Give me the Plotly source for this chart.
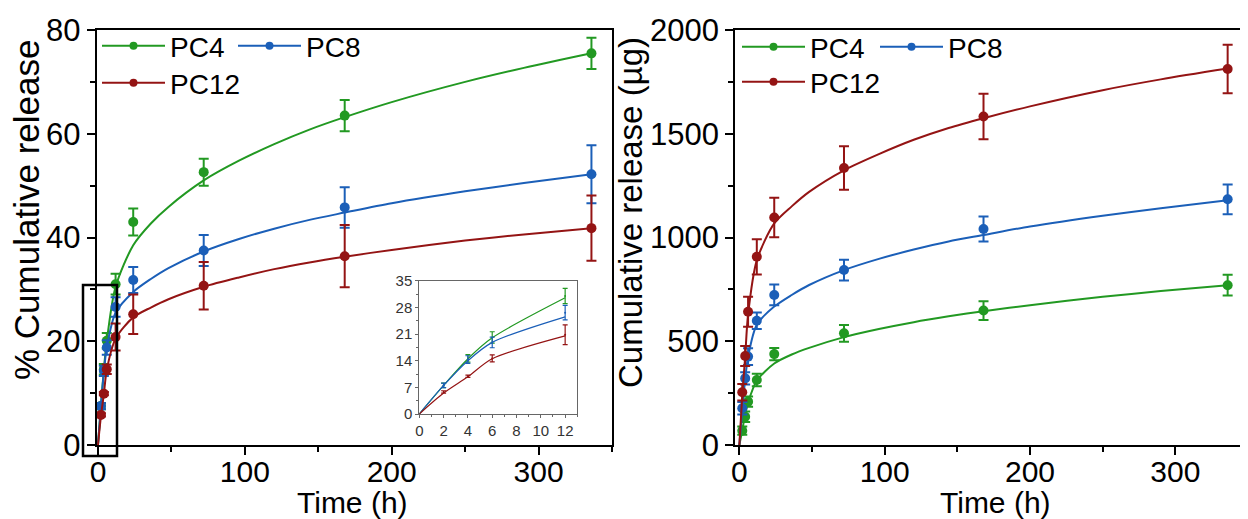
import plotly.graph_objects as go

# ---------------- data ----------------
time_h = [2, 4, 6, 12, 24, 72, 168, 336]

pc4_pct = [7.5, 14.6, 20.1, 31.0, 43.0, 52.6, 63.5, 75.5]
pc4_pct_err = [0.6, 1.0, 1.5, 2.0, 2.6, 2.6, 3.0, 3.0]
pc8_pct = [7.5, 14.3, 18.8, 26.6, 31.8, 37.5, 45.8, 52.2]
pc8_pct_err = [0.6, 1.0, 1.4, 1.9, 2.5, 3.0, 3.9, 5.6]
pc12_pct = [5.8, 9.9, 14.6, 20.8, 25.2, 30.7, 36.4, 41.8]
pc12_pct_err = [0.3, 0.3, 0.9, 2.6, 3.8, 4.6, 6.0, 6.3]

pc4_ug = [69, 136, 209, 313, 438, 538, 648, 770]
pc4_ug_err = [20, 25, 25, 30, 30, 40, 45, 50]
pc8_ug = [177, 321, 426, 599, 723, 843, 1041, 1184]
pc8_ug_err = [30, 30, 40, 40, 50, 50, 60, 72]
pc12_ug = [254, 429, 642, 907, 1096, 1335, 1583, 1812]
pc12_ug_err = [40, 48, 72, 85, 95, 105, 110, 117]

# fitted curves
fit_t = [0, 2, 4, 6, 12, 24, 36, 48, 72, 96, 120, 144, 168, 200, 250, 290, 336]
pc4_fit_pct = [0, 7.5, 14.5, 20, 30.5, 38.5, 42.7, 45.9, 51, 54.8, 58.0, 60.8, 63.2, 66.1, 70.0, 72.7, 75.5]
pc8_fit_pct = [0, 7.5, 14, 18.8, 25.5, 29.5, 32.0, 34.1, 37.3, 39.7, 41.7, 43.4, 44.8, 46.6, 48.9, 50.5, 52.2]
pc12_fit_pct = [0, 5.5, 9.8, 14.5, 20.5, 24.6, 26.5, 28.1, 30.5, 32.3, 33.9, 35.2, 36.3, 37.6, 39.4, 40.6, 41.8]
pc4_fit_ug = [0, 72, 145, 205, 310, 393, 436, 468, 520, 559, 592, 620, 645, 674, 714, 742, 770]
pc8_fit_ug = [0, 170, 316, 425, 580, 667, 723, 771, 843, 897, 942, 981, 1012, 1053, 1105, 1141, 1180]
pc12_fit_ug = [0, 239, 425, 629, 890, 1068, 1150, 1220, 1324, 1402, 1471, 1528, 1575, 1632, 1710, 1762, 1814]

series_names = ["PC4", "PC8", "PC12"]
colors = {"PC4": "#229922", "PC8": "#1b5fb8", "PC12": "#941414"}

# page has an 8px body margin; figure is sized/placed so the picture is 1248x519
OFF = 8
W, H = 1248 - OFF, 519 - OFF
FONT = "Liberation Sans, Arial, sans-serif"


def px(x):
    return (x - OFF) / W


def py(y):
    return 1 - (y - OFF) / H


fig = go.Figure()

pct = {"PC4": (pc4_pct, pc4_pct_err, pc4_fit_pct),
       "PC8": (pc8_pct, pc8_pct_err, pc8_fit_pct),
       "PC12": (pc12_pct, pc12_pct_err, pc12_fit_pct)}
ug = {"PC4": (pc4_ug, pc4_ug_err, pc4_fit_ug),
      "PC8": (pc8_ug, pc8_ug_err, pc8_fit_ug),
      "PC12": (pc12_ug, pc12_ug_err, pc12_fit_ug)}

for panel, data, xa, ya in [(0, pct, "x", "y"), (1, ug, "x2", "y2")]:
    for name in series_names:
        vals, errs, fit = data[name]
        c = colors[name]
        fig.add_trace(go.Scatter(
            x=fit_t, y=fit, mode="lines", line=dict(color=c, width=2, shape="spline", smoothing=0.8),
            xaxis=xa, yaxis=ya, showlegend=False, hoverinfo="skip"))
        fig.add_trace(go.Scatter(
            x=time_h, y=vals, mode="markers",
            marker=dict(color=c, size=10),
            error_y=dict(type="data", array=errs, color=c, thickness=2, width=5),
            xaxis=xa, yaxis=ya, showlegend=False))

# inset (first 12 h of % release)
for name in series_names:
    vals, errs, fit = pct[name]
    c = colors[name]
    n_fit = sum(1 for t in fit_t if t <= 12)
    n_pts = sum(1 for t in time_h if t <= 12)
    fig.add_trace(go.Scatter(
        x=fit_t[:n_fit], y=fit[:n_fit], mode="lines",
        line=dict(color=c, width=1.2, shape="spline", smoothing=0.8),
        xaxis="x3", yaxis="y3", showlegend=False, hoverinfo="skip"))
    fig.add_trace(go.Scatter(
        x=time_h[:n_pts], y=vals[:n_pts], mode="markers",
        marker=dict(color=c, size=2),
        error_y=dict(type="data", array=errs[:n_pts], color=c, thickness=1.2, width=2.5),
        xaxis="x3", yaxis="y3", showlegend=False))

# legend-only entries
legend_ids = {(0, "PC4"): "legend", (0, "PC8"): "legend2", (0, "PC12"): "legend3",
              (1, "PC4"): "legend4", (1, "PC8"): "legend5", (1, "PC12"): "legend6"}
for (panel, name), lid in legend_ids.items():
    fig.add_trace(go.Scatter(
        x=[None], y=[None], mode="lines+markers", name=name,
        line=dict(color=colors[name], width=2), marker=dict(color=colors[name], size=8),
        xaxis="x" if panel == 0 else "x2", yaxis="y" if panel == 0 else "y2",
        legend=lid, showlegend=True))

axis_common = dict(
    showline=True, linecolor="black", linewidth=1.5, mirror=True,
    ticks="outside", ticklen=8, tickwidth=1.5, tickcolor="black",
    tickfont=dict(family=FONT, size=31, color="black"),
    showgrid=False, zeroline=False, automargin=False,
    minor=dict(ticks="outside", ticklen=5, tickwidth=1.5, tickcolor="black"),
)

inset_common = dict(
    showline=True, linecolor="#666", linewidth=1, mirror=True,
    ticks="outside", ticklen=3, tickwidth=1, tickcolor="#666",
    tickfont=dict(family=FONT, size=15, color="#333"),
    showgrid=False, zeroline=False, automargin=False,
    minor=dict(ticks="outside", ticklen=2, tickwidth=1, tickcolor="#666"),
)


def leg(x, y):
    return dict(x=x, y=y, xanchor="left", yanchor="middle", orientation="h",
                itemwidth=63, font=dict(family=FONT, size=28, color="black"),
                bgcolor="rgba(0,0,0,0)", borderwidth=0, itemclick=False,
                itemdoubleclick=False)


fig.update_layout(
    width=W, height=H, margin=dict(l=0, r=0, t=0, b=0, autoexpand=False),
    paper_bgcolor="white", plot_bgcolor="white",
    xaxis=dict(domain=[px(96.5), px(612)], range=[-1, 350], dtick=100,
               anchor="y", **axis_common),
    yaxis=dict(domain=[py(445), py(30)], range=[0, 80], dtick=20,
               anchor="x", **axis_common),
    xaxis2=dict(domain=[px(735), 1.0], range=[-3, 350], dtick=100,
                anchor="y2", **axis_common),
    yaxis2=dict(domain=[py(445), py(30)], range=[0, 2000], dtick=500,
                anchor="x2", **axis_common),
    xaxis3=dict(domain=[px(419.3), px(577.3)], range=[0, 13], dtick=2,
                anchor="y3", **inset_common),
    yaxis3=dict(domain=[py(414), py(280.7)], range=[0, 35], dtick=7,
                anchor="x3", **inset_common),
    legend=leg(px(97), py(46)),
    legend2=leg(px(233), py(46)),
    legend3=leg(px(97), py(83)),
    legend4=leg(px(737), py(47)),
    legend5=leg(px(875), py(47)),
    legend6=leg(px(737), py(82)),
    font=dict(family=FONT, color="black"),
)
fig.update_layout(xaxis_minor_dtick=50, yaxis_minor_dtick=10,
                  xaxis2_minor_dtick=50, yaxis2_minor_dtick=250,
                  xaxis3_minor_dtick=1, yaxis3_minor_dtick=3.5)
fig.update_layout(xaxis_tickfont_size=30, xaxis2_tickfont_size=30)

# pull the big x tick labels closer to the axis, as in the reference
try:
    fig.update_layout(xaxis_ticklabelstandoff=-9, xaxis2_ticklabelstandoff=-9)
except Exception:
    pass

fig.add_shape(type="rect", xref="paper", yref="paper",
              x0=px(83), x1=px(117), y0=py(456), y1=py(285),
              line=dict(color="black", width=2.5), fillcolor="rgba(0,0,0,0)")

fig.add_annotation(text="% Cumulative release", xref="paper", yref="paper",
                   x=px(26), y=py(210), textangle=-90, showarrow=False,
                   font=dict(family=FONT, size=35, color="black"),
                   xanchor="center", yanchor="middle")
fig.add_annotation(text="Cumulative release (µg)", xref="paper", yref="paper",
                   x=px(631), y=py(213), textangle=-90, showarrow=False,
                   font=dict(family=FONT, size=33, color="black"),
                   xanchor="center", yanchor="middle")
fig.add_annotation(text="Time (h)", xref="paper", yref="paper",
                   x=px(353), y=py(502), showarrow=False,
                   font=dict(family=FONT, size=30, color="black"),
                   xanchor="center", yanchor="middle")
fig.add_annotation(text="Time (h)", xref="paper", yref="paper",
                   x=px(995), y=py(502), showarrow=False,
                   font=dict(family=FONT, size=30, color="black"),
                   xanchor="center", yanchor="middle")

fig.write_html("out.html")
